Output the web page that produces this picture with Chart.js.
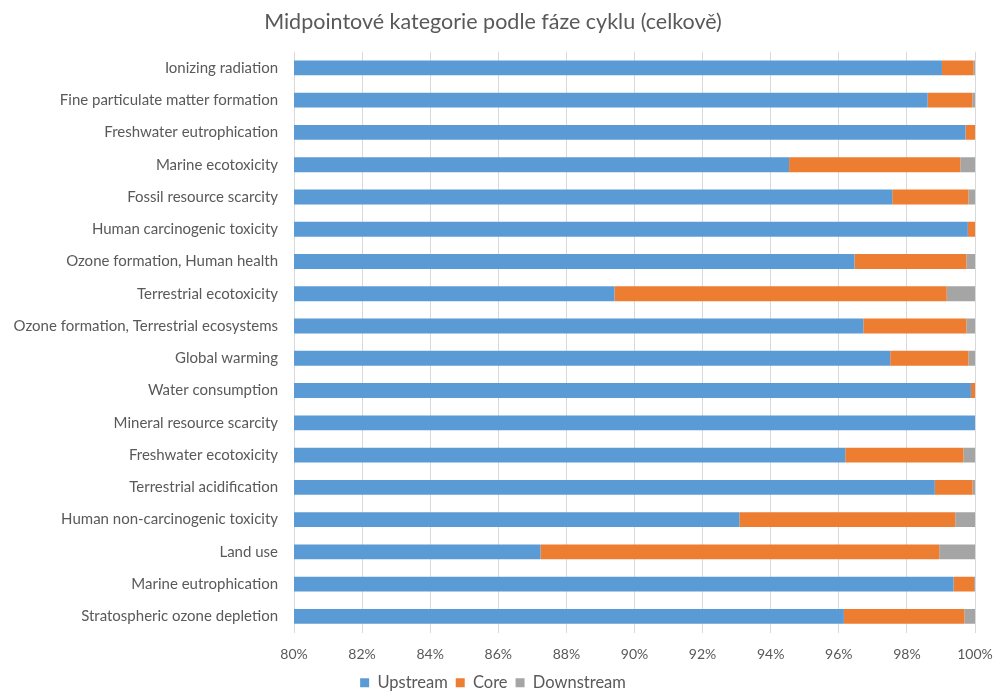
<!DOCTYPE html>
<html>
<head>
<meta charset="utf-8">
<script src="https://cdn.jsdelivr.net/npm/chart.js@4"></script>
<style>
  html, body { margin: 0; padding: 0; background: #fff; overflow: hidden; }
  #wrap { width: 996px; height: 701px; }
</style>
</head>
<body>
<div id="wrap"><canvas id="graf"></canvas></div>
<script>
// kategorie (shora dolů)
const kategorie = [
  'Ionizing radiation',
  'Fine particulate matter formation',
  'Freshwater eutrophication',
  'Marine ecotoxicity',
  'Fossil resource scarcity',
  'Human carcinogenic toxicity',
  'Ozone formation, Human health',
  'Terrestrial ecotoxicity',
  'Ozone formation, Terrestrial ecosystems',
  'Global warming',
  'Water consumption',
  'Mineral resource scarcity',
  'Freshwater ecotoxicity',
  'Terrestrial acidification',
  'Human non-carcinogenic toxicity',
  'Land use',
  'Marine eutrophication',
  'Stratospheric ozone depletion'
];

// podíly v %
const upstream   = [99.03, 98.61, 99.72, 94.54, 97.57, 99.79, 96.46, 89.41, 96.72, 97.51, 99.88, 100.0, 96.19, 98.82, 93.08, 87.24, 99.37, 96.15];
const core       = [0.93, 1.31, 0.28, 5.03, 2.24, 0.21, 3.29, 9.76, 3.03, 2.30, 0.12, 0.00, 3.47, 1.11, 6.34, 11.71, 0.60, 3.54];
const downstream = [0.04, 0.08, 0.00, 0.43, 0.19, 0.00, 0.25, 0.83, 0.25, 0.19, 0.00, 0.00, 0.34, 0.07, 0.58, 1.05, 0.03, 0.31];

const osaMin = 80;
const osaMax = 100;
const krok = 2;

const barvaTextu = '#595959';
const pismo = 'Lato, "Open Sans", sans-serif';

const ctx = document.getElementById('graf').getContext('2d');

new Chart(ctx, {
  type: 'bar',
  data: {
    labels: kategorie,
    datasets: [
      { label: 'Upstream', data: upstream, backgroundColor: '#5B9BD5' },
      { label: 'Core', data: core, backgroundColor: '#ED7D31' },
      { label: 'Downstream', data: downstream, backgroundColor: '#A5A5A5' }
    ]
  },
  options: {
    indexAxis: 'y',
    responsive: true,
    maintainAspectRatio: false,
    animation: false,
    layout: { padding: { left: 0, right: 10, top: 0, bottom: 0 } },
    datasets: {
      bar: { categoryPercentage: 0.46, barPercentage: 1.0, borderWidth: 0 }
    },
    scales: {
      x: {
        stacked: true,
        min: osaMin,
        max: osaMax,
        ticks: {
          stepSize: krok,
          color: barvaTextu,
          font: { family: pismo, size: 14 },
          padding: 14,
          callback: (v) => v + '%'
        },
        grid: { color: '#d9d9d9', drawTicks: false, lineWidth: 1 },
        border: { display: false },
        afterFit: (scale) => {
          scale.height = 34;
          scale.paddingRight = 21; // popisek 100% nemá odsouvat graf
        }
      },
      y: {
        stacked: true,
        ticks: {
          color: barvaTextu,
          font: { family: pismo, size: 15 },
          padding: 16
        },
        grid: { display: false, drawTicks: false },
        border: { display: false },
        afterFit: (scale) => { scale.width = 294; }
      }
    },
    plugins: {
      title: {
        display: true,
        text: 'Midpointové kategorie podle fáze cyklu (celkově)',
        color: barvaTextu,
        font: { family: pismo, size: 21.5, weight: 'normal' },
        padding: { top: 9, bottom: 17 }
      },
      legend: {
        position: 'bottom',
        labels: {
          color: barvaTextu,
          font: { family: pismo, size: 16.5 },
          boxWidth: 9,
          boxHeight: 9,
          padding: 8
        }
      },
      tooltip: { enabled: false }
    }
  }
});
</script>
</body>
</html>
